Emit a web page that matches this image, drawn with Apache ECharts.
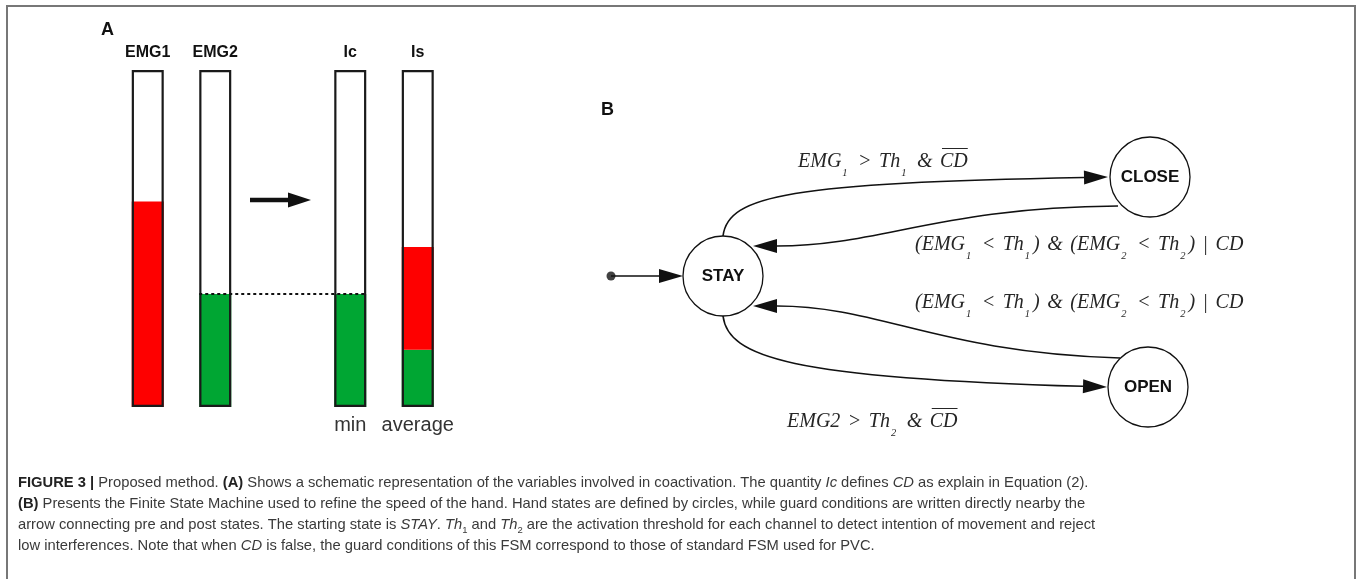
<!DOCTYPE html>
<html>
<head>
<meta charset="utf-8">
<script src="https://cdn.jsdelivr.net/npm/echarts@6/dist/echarts.min.js"></script>
<style>
html, body { margin: 0; padding: 0; background: #fff; }
#chart { width: 1358px; height: 579px; }
</style>
</head>
<body>
<div id="chart"></div>
<script>
// ---- panel A : signal levels (percent of full scale) ----
const barNames = ['EMG1', 'EMG2', '', 'Ic', 'Is'];
const barNotes = ['', '', '', 'min', 'average'];
const greenLevel = [0, 33.5, '-', 33.5, 17];
const redLevel = [61, 0, '-', 0, 30.5];
const fullScale = [100, 100, '-', 100, 100];

// ---- panel B : finite state machine (diagram units) ----
const states = ['STAY', 'CLOSE', 'OPEN'];
const stateX = [14.3, 57.0, 56.8];
const stateY = [17.6, 7.7, 28.7];
const startDot = [3.1, 17.6];
// cubic paths: start, control 1, control 2, end (arrow tip)
const transitions = [
    [14.3, 13.6, 14.8, 9.5, 21.0, 8.3, 52.8, 7.7],      // STAY -> CLOSE
    [53.8, 10.6, 36.0, 10.7, 30.0, 14.6, 17.3, 14.6],   // CLOSE -> STAY
    [54.0, 25.8, 36.0, 25.3, 30.0, 20.6, 17.3, 20.6],   // OPEN -> STAY
    [14.3, 21.6, 14.8, 25.7, 21.0, 27.8, 52.7, 28.7],   // STAY -> OPEN
    [3.1, 17.6, 5.5, 17.6, 8.0, 17.6, 10.3, 17.6]       // start -> STAY
];
const guardText = [
    'EMG_1 > Th_1 & ~CD',
    '(EMG_1 < Th_1) & (EMG_2 < Th_2) | CD',
    '(EMG_1 < Th_1) & (EMG_2 < Th_2) | CD',
    'EMG2 > Th_2 & ~CD'
];
const guardX = [21.8, 33.5, 33.5, 20.7];
const guardY = [6.2, 14.5, 20.3, 32.2];

// ---- caption ----
const captionLines = [
    '**FIGURE 3 |** Proposed method. **(A)** Shows a schematic representation of the variables involved in coactivation. The quantity *Ic* defines *CD* as explain in Equation (2).',
    '**(B)** Presents the Finite State Machine used to refine the speed of the hand. Hand states are defined by circles, while guard conditions are written directly nearby the',
    'arrow connecting pre and post states. The starting state is *STAY*. *Th*_1 and *Th*_2 are the activation threshold for each channel to detect intention of movement and reject',
    'low interferences. Note that when *CD* is false, the guard conditions of this FSM correspond to those of standard FSM used for PVC.'
];

const ctx2d = document.createElement('canvas').getContext('2d');
function measure(text, st) {
    ctx2d.font = [st.fontStyle || '', st.fontWeight || '', st.fontSize + 'px', st.fontFamily].join(' ').trim();
    const pad = st.padding ? st.padding[1] + st.padding[3] : 0;
    return ctx2d.measureText(text).width + pad;
}
// tiny markup: **bold**, *italic*, _1 subscript, ~XY overline
function parseMarkup(str) {
    const out = [];
    const re = /\*\*(.+?)\*\*|\*(.+?)\*|_(\d)|~(\w+)/g;
    let last = 0, m;
    while ((m = re.exec(str))) {
        if (m.index > last) out.push(['r', str.slice(last, m.index)]);
        if (m[1]) out.push(['b', m[1]]);
        else if (m[2]) out.push(['i', m[2]]);
        else if (m[3]) out.push(['s', m[3]]);
        else out.push(['o', m[4]]);
        last = re.lastIndex;
    }
    if (last < str.length) out.push(['r', str.slice(last)]);
    return out;
}
// guard labels get wider spaces, like the original layout
function widenSpaces(segs) {
    const out = [];
    segs.forEach(s => {
        if (s[0] !== 'r') { out.push(s); return; }
        s[1].split(/( )/).forEach(p => {
            if (p === '') return;
            out.push([p === ' ' ? 'w' : 'r', p]);
        });
    });
    return out;
}
function toRich(segs) {
    return segs.map(s => '{' + s[0] + '|' + s[1] + '}').join('');
}

const serif = '"Liberation Serif"';
const sans = '"Liberation Sans"';
const guardStyles = {
    r: { fontStyle: 'italic', fontSize: 20, fontFamily: serif, lineHeight: 34, verticalAlign: 'middle', fill: '#262626' },
    o: { fontStyle: 'italic', fontSize: 20, fontFamily: serif, lineHeight: 34, verticalAlign: 'middle', fill: '#262626' },
    w: { fontStyle: 'italic', fontSize: 30, fontFamily: serif, lineHeight: 34, verticalAlign: 'middle', fill: '#262626' },
    s: { fontStyle: 'italic', fontSize: 10.5, fontFamily: serif, lineHeight: 10, verticalAlign: 'bottom', fill: '#262626', padding: [0, 3, 0, 1] }
};

// caption font size fitted to the width of the first line
const capBase = {
    r: { fontSize: 14, fontFamily: sans, fill: '#3a3a3a', lineHeight: 20, verticalAlign: 'middle' },
    b: { fontSize: 14, fontWeight: 'bold', fontFamily: sans, fill: '#222', lineHeight: 20, verticalAlign: 'middle' },
    i: { fontSize: 14, fontStyle: 'italic', fontFamily: sans, fill: '#3a3a3a', lineHeight: 20, verticalAlign: 'middle' },
    s: { fontSize: 9, fontFamily: sans, fill: '#3a3a3a', lineHeight: 10, verticalAlign: 'bottom' }
};
let firstW = 0;
parseMarkup(captionLines[0]).forEach(s => { firstW += measure(s[1], capBase[s[0]]); });
const fit = 1071 / firstW;
const capStyles = {};
Object.keys(capBase).forEach(k => {
    capStyles[k] = Object.assign({}, capBase[k], { fontSize: capBase[k].fontSize * fit });
});

const chart = echarts.init(document.getElementById('chart'));

const hiddenCat = {
    axisLine: { show: false },
    axisTick: { show: false },
    splitLine: { show: false }
};

const option = {
    animation: false,
    backgroundColor: '#fff',
    grid: [
        { left: 114, top: 70, width: 337.5, height: 337, outerBoundsMode: 'none' },
        { left: 580, top: 100, width: 700, height: 350, outerBoundsMode: 'none' }
    ],
    xAxis: [
        Object.assign({
            type: 'category', gridIndex: 0, position: 'top', data: barNames,
            axisLabel: { interval: 0, margin: 9, fontSize: 16, fontWeight: 'bold', color: '#111', fontFamily: sans }
        }, hiddenCat),
        Object.assign({
            type: 'category', gridIndex: 0, position: 'bottom', data: barNotes,
            axisLabel: { interval: 0, margin: 8, fontSize: 20, color: '#333', fontFamily: sans }
        }, hiddenCat),
        { type: 'value', gridIndex: 1, min: 0, max: 70, show: false }
    ],
    yAxis: [
        { type: 'value', gridIndex: 0, min: 0, max: 100, show: false },
        { type: 'value', gridIndex: 1, min: 0, max: 35, inverse: true, show: false }
    ],
    series: [
        {
            name: 'green', type: 'bar', stack: 'lvl', xAxisIndex: 0, yAxisIndex: 0,
            barWidth: 32, barGap: '-100%', data: greenLevel,
            itemStyle: { color: '#00a633' }
        },
        {
            name: 'red', type: 'bar', stack: 'lvl', xAxisIndex: 0, yAxisIndex: 0,
            barWidth: 32, barGap: '-100%', data: redLevel,
            itemStyle: { color: '#fe0000' }
        },
        {
            name: 'frame', type: 'bar', xAxisIndex: 0, yAxisIndex: 0,
            barWidth: 32, barGap: '-100%', data: fullScale, z: 4,
            itemStyle: { color: 'rgba(0,0,0,0)', borderColor: '#1a1a1a', borderWidth: 2.2 }
        },
        {
            name: 'transitions', type: 'custom', xAxisIndex: 2, yAxisIndex: 1, z: 3,
            data: transitions,
            renderItem: function (params, api) {
                const pts = [0, 1, 2, 3].map(k => api.coord([api.value(2 * k), api.value(2 * k + 1)]));
                const p0 = pts[0], c1 = pts[1], c2 = pts[2], p3 = pts[3];
                let dx = p3[0] - c2[0], dy = p3[1] - c2[1];
                const d = Math.hypot(dx, dy);
                dx /= d; dy /= d;
                const bx = p3[0] - dx * 24, by = p3[1] - dy * 24;
                return {
                    type: 'group',
                    children: [
                        {
                            type: 'bezierCurve',
                            shape: { x1: p0[0], y1: p0[1], cpx1: c1[0], cpy1: c1[1], cpx2: c2[0], cpy2: c2[1], x2: bx, y2: by },
                            style: { stroke: '#111', lineWidth: 1.6, fill: 'none' }
                        },
                        {
                            type: 'polygon',
                            shape: { points: [[p3[0], p3[1]], [bx - dy * 7, by + dx * 7], [bx + dy * 7, by - dx * 7]] },
                            style: { fill: '#111', stroke: 'none' }
                        }
                    ]
                };
            }
        },
        {
            name: 'guards', type: 'custom', xAxisIndex: 2, yAxisIndex: 1, z: 3,
            data: guardText.map((t, i) => [guardX[i], guardY[i], i]),
            renderItem: function (params, api) {
                const p = api.coord([api.value(0), api.value(1)]);
                const segs = widenSpaces(parseMarkup(guardText[api.value(2)]));
                let x = p[0];
                const bars = [];
                segs.forEach(s => {
                    const w = measure(s[1], guardStyles[s[0]]);
                    if (s[0] === 'o') {
                        bars.push({
                            type: 'line',
                            shape: { x1: x + 2, y1: p[1] - 13.5, x2: x + w, y2: p[1] - 13.5 },
                            style: { stroke: '#262626', lineWidth: 1 }
                        });
                    }
                    x += w;
                });
                return {
                    type: 'group',
                    children: [{
                        type: 'text', x: p[0], y: p[1],
                        style: { text: toRich(segs), rich: guardStyles, align: 'left', verticalAlign: 'middle' }
                    }].concat(bars)
                };
            }
        },
        {
            name: 'start', type: 'scatter', xAxisIndex: 2, yAxisIndex: 1, z: 5,
            symbolSize: 9, data: [startDot],
            itemStyle: { color: '#111' }
        },
        {
            name: 'states', type: 'scatter', xAxisIndex: 2, yAxisIndex: 1, z: 6,
            symbolSize: 80,
            data: states.map((s, i) => [stateX[i], stateY[i], s]),
            itemStyle: { color: '#fff', borderColor: '#111', borderWidth: 1.3, opacity: 1 },
            label: {
                show: true, position: 'inside', formatter: p => p.value[2],
                fontSize: 17, fontWeight: 'bold', color: '#111', fontFamily: sans
            }
        }
    ],
    graphic: [
        {
            id: 'frame', type: 'rect', silent: true,
            shape: { x: 7, y: 6, width: 1348, height: 620 },
            style: { fill: 'none', stroke: '#777', lineWidth: 2 }
        },
        {
            id: 'labA', type: 'text', x: 101, y: 30,
            style: { text: 'A', font: 'bold 18px ' + sans, fill: '#111', verticalAlign: 'middle' }
        },
        {
            id: 'labB', type: 'text', x: 601, y: 110,
            style: { text: 'B', font: 'bold 18px ' + sans, fill: '#111', verticalAlign: 'middle' }
        },
        {
            id: 'arrowA', type: 'group',
            children: [
                { type: 'line', shape: { x1: 250, y1: 200, x2: 291, y2: 200 }, style: { stroke: '#111', lineWidth: 4.5 } },
                { type: 'polygon', shape: { points: [[288, 192.5], [311, 200], [288, 207.5]] }, style: { fill: '#111' } }
            ]
        }
    ].concat(captionLines.map((line, i) => ({
        id: 'cap' + i, type: 'text', x: 18, y: 482.5 + i * 21.2,
        style: { text: toRich(parseMarkup(line)), rich: capStyles, verticalAlign: 'middle' }
    })))
};

chart.setOption(option);

// dashed link between EMG2 level and Ic
const pA = chart.convertToPixel({ xAxisIndex: 0, yAxisIndex: 0 }, [1, greenLevel[1]]);
const pB = chart.convertToPixel({ xAxisIndex: 0, yAxisIndex: 0 }, [3, greenLevel[3]]);
chart.setOption({
    graphic: [{
        id: 'minLink', type: 'line', z: 10,
        shape: { x1: pA[0] - 16, y1: pA[1], x2: pB[0] + 17, y2: pB[1] },
        style: { stroke: '#111', lineWidth: 2, lineDash: [3, 3] }
    }]
});
</script>
</body>
</html>
